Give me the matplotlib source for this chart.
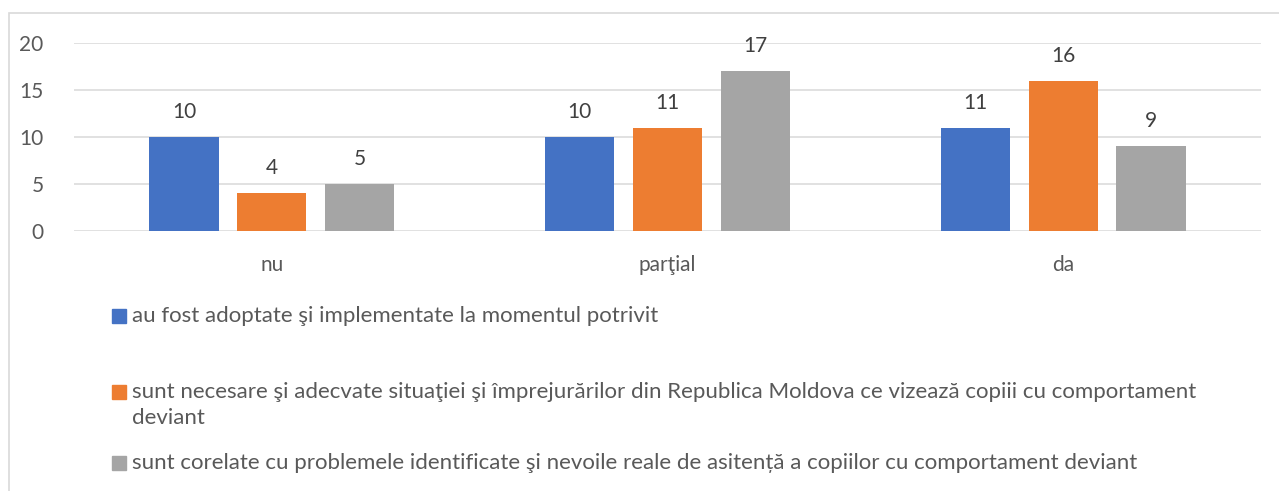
import numpy as np
import matplotlib
matplotlib.use('Agg')
import matplotlib.pyplot as plt
from matplotlib.patches import Rectangle

plt.rcParams['font.family'] = ['Lato', 'DejaVu Sans']

categories = ['nu', 'parţial', 'da']
series_names = [
    'au fost adoptate şi implementate la momentul potrivit',
    'sunt necesare şi adecvate situaţiei şi împrejurărilor din Republica Moldova ce vizează copiii cu comportament\ndeviant',
    'sunt corelate cu problemele identificate şi nevoile reale de asitență a copiilor cu comportament deviant',
]
adoptate = [10, 10, 11]
necesare = [4, 11, 16]
corelate = [5, 17, 9]
colors = ['#4472C4', '#ED7D31', '#A5A5A5']

W, H = 1279, 491
fig = plt.figure(figsize=(W / 100, H / 100), dpi=100)
ax = fig.add_axes([74 / W, 1 - 231 / H, (1261 - 74) / W, (231 - 43) / H])

x = np.arange(len(categories))
width = 0.175
step = 0.222
for i, (vals, c) in enumerate(zip([adoptate, necesare, corelate], colors)):
    bars = ax.bar(x + (i - 1) * step, vals, width, color=c, zorder=3)
    for b, v in zip(bars, vals):
        ax.annotate(str(v), (b.get_x() + b.get_width() / 2, v), xytext=(0, 18),
                    textcoords='offset points', ha='center', va='center',
                    fontsize=15, color='#404040')

ax.set_xlim(-0.5, 2.5)
ax.set_ylim(0, 20)
ax.set_yticks([0, 5, 10, 15, 20])
ax.set_xticks(x)
ax.set_xticklabels(categories)
ax.grid(axis='y', color='#D9D9D9', linewidth=1.1, zorder=0)
for s in ax.spines.values():
    s.set_visible(False)
ax.tick_params(length=0, labelsize=15, labelcolor='#595959')
ax.tick_params(axis='x', pad=17)
ax.tick_params(axis='y', pad=22)

# legend entries laid out under the plot: (square centre y, text centre y)
leg_pos = [(316, 316), (392, 405), (463, 463)]
for name, c, (sy, ty) in zip(series_names, colors, leg_pos):
    fig.patches.append(Rectangle((112 / W, 1 - (sy + 7) / H), 14 / W, 14 / H,
                                 transform=fig.transFigure, color=c))
    fig.text(132 / W, 1 - ty / H, name, fontsize=16, color='#595959',
             va='center', linespacing=1.4)

# chart border
fig.patches.append(Rectangle((9 / W, -0.1), 1.2, 1.1 - 13 / H, transform=fig.transFigure,
                             fill=False, edgecolor='#D9D9D9', linewidth=1.2))

fig.savefig('out.png', dpi=100)
